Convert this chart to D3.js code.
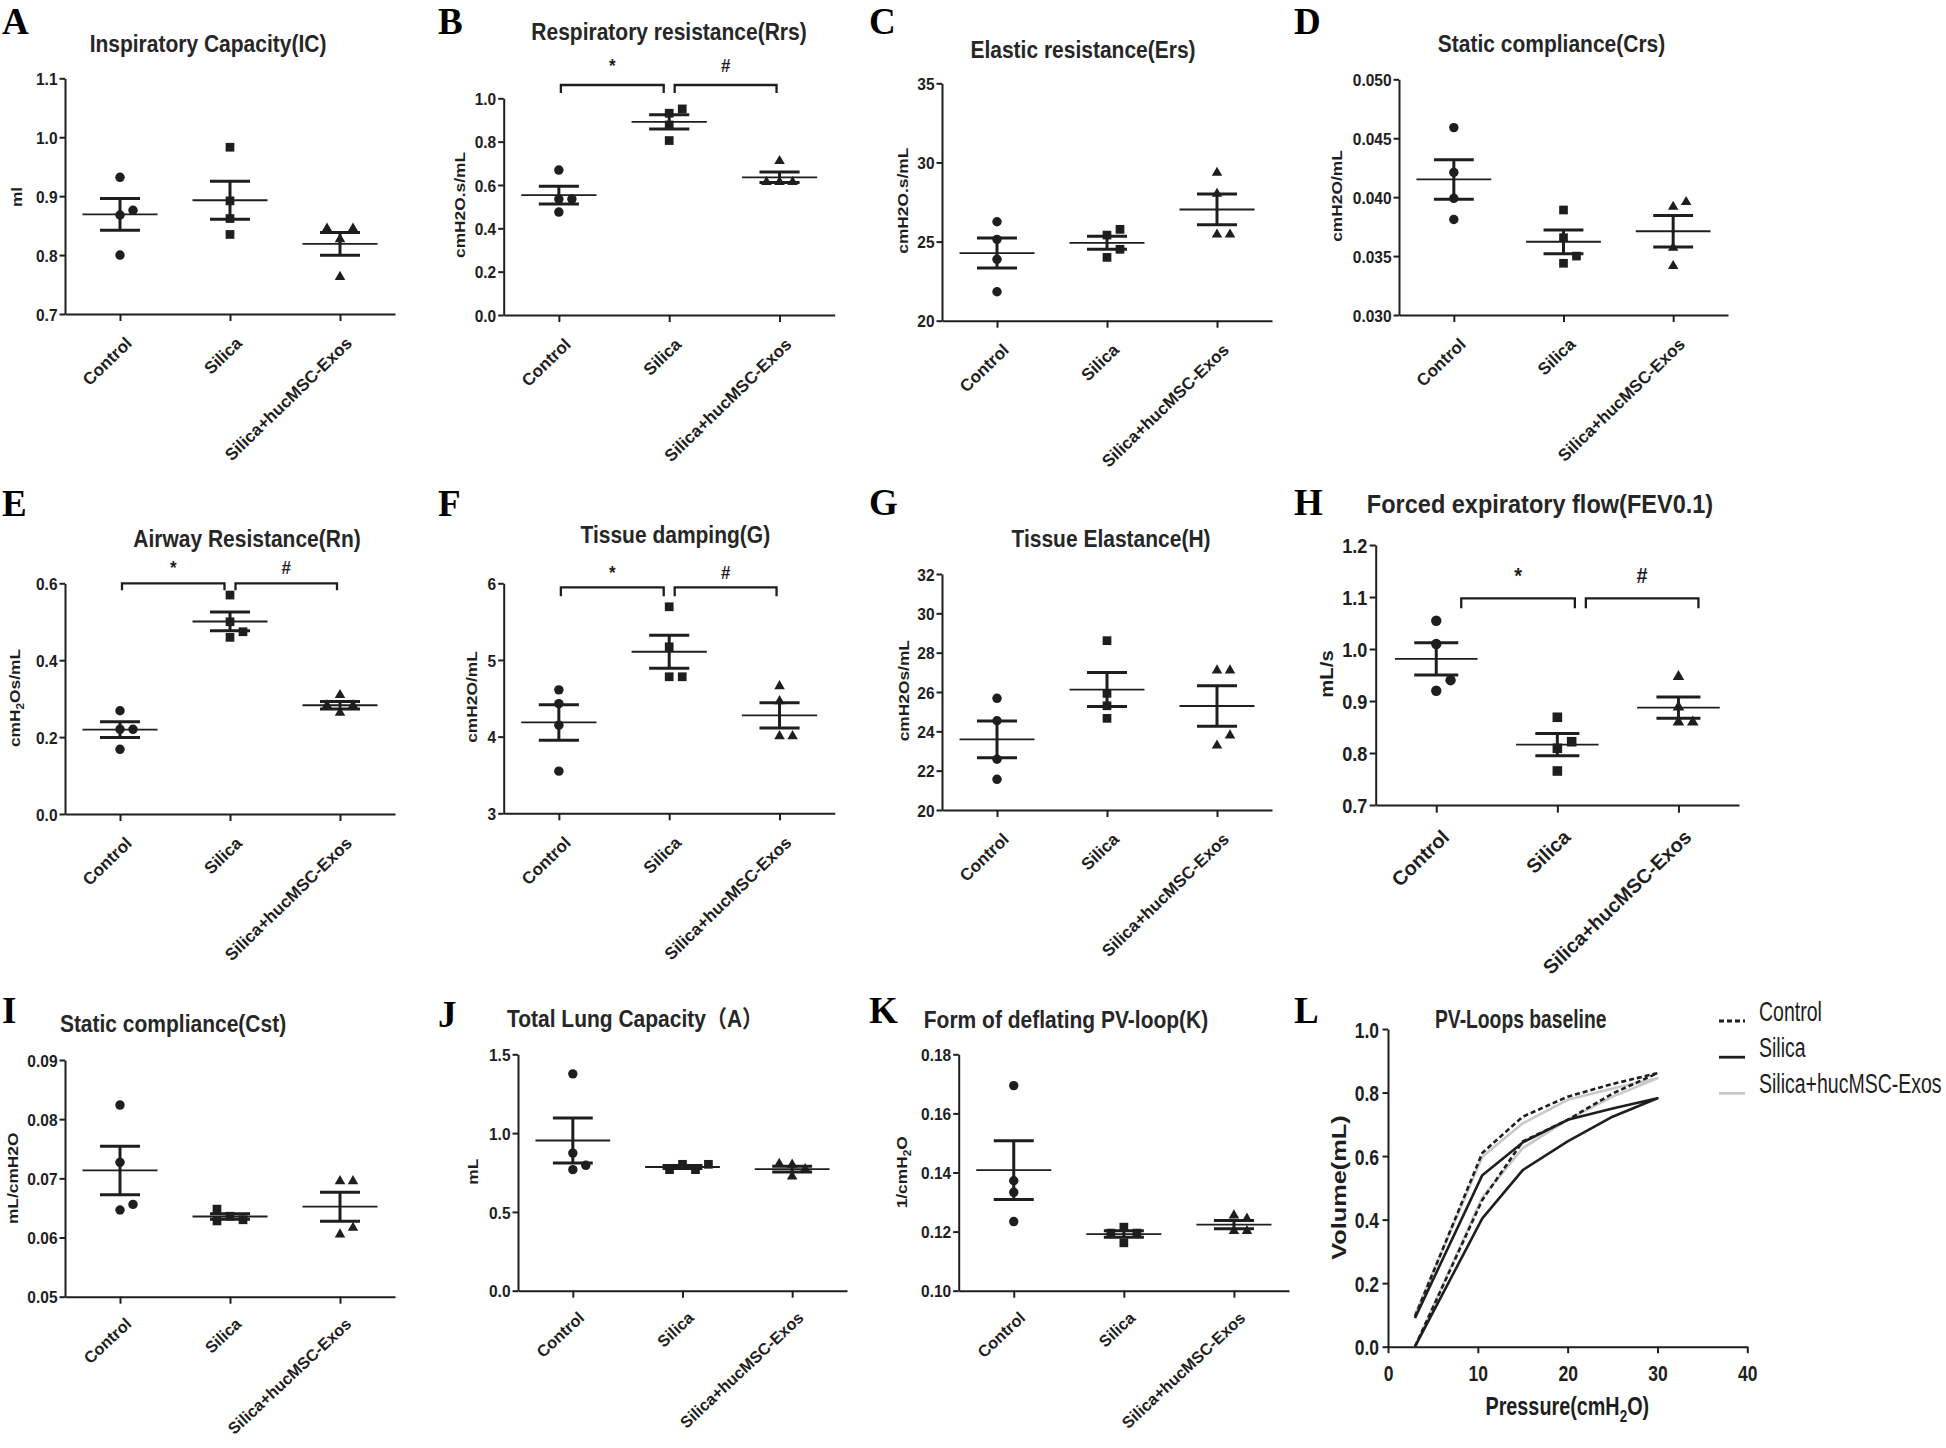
<!DOCTYPE html>
<html><head><meta charset="utf-8">
<script src="https://cdnjs.cloudflare.com/ajax/libs/d3/7.8.5/d3.min.js"></script>
<style>
body{margin:0;background:#fff}
svg{display:block;background:#fff}
</style>
</head><body>
<svg id="chart" width="1946" height="1448"></svg>
<script>
// ---------------- DATA ----------------
const groups = ["Control", "Silica", "Silica+hucMSC-Exos"];

// A Inspiratory Capacity (ml)
const icValues = [[0.932, 0.868, 0.876, 0.800], [0.983, 0.892, 0.862, 0.835], [0.826, 0.844, 0.844, 0.762]];
const icTicks = [0.7, 0.8, 0.9, 1.0, 1.1];
// B Respiratory resistance
const rrsValues = [[0.669, 0.535, 0.535, 0.475], [0.931, 0.951, 0.877, 0.805], [0.708, 0.611, 0.611, 0.611]];
const rrsTicks = [0, 0.2, 0.4, 0.6, 0.8, 1.0];
// C Elastic resistance
const ersValues = [[26.25, 25.14, 23.88, 21.83], [25.41, 24.0, 24.51, 25.77], [29.31, 27.98, 25.41, 25.41]];
const ersTicks = [20, 25, 30, 35];
// D Static compliance (Crs)
const crsValues = [[0.0459, 0.0421, 0.0399, 0.0381], [0.03891, 0.03656, 0.03439, 0.0350], [0.03914, 0.03953, 0.03566, 0.0341]];
const crsTicks = [0.030, 0.035, 0.040, 0.045, 0.050];
// E Airway resistance
const rnValues = [[0.2686, 0.2202, 0.2202, 0.1682], [0.5694, 0.500, 0.4594, 0.474], [0.308, 0.2808, 0.2808, 0.2618]];
const rnTicks = [0, 0.2, 0.4, 0.6];
// F Tissue damping
const gValues = [[4.61, 4.43, 4.15, 3.55], [5.694, 5.172, 4.781, 4.781], [4.651, 4.455, 3.999, 3.999]];
const gTicks = [3, 4, 5, 6];
// G Tissue elastance
const hValues = [[25.68, 24.54, 22.58, 21.56], [28.61, 25.93, 24.66, 25.30], [27.07, 27.07, 23.25, 23.76]];
const hTicks = [20, 22, 24, 26, 28, 30, 32];
// H FEV0.1
const fevValues = [[1.0544, 1.0096, 0.9198, 0.940], [0.8687, 0.809, 0.8217, 0.7654], [0.9456, 0.8871, 0.8583, 0.8583]];
const fevTicks = [0.7, 0.8, 0.9, 1.0, 1.1, 1.2];
// I Static compliance (Cst)
const cstValues = [[0.08238, 0.0727, 0.06465, 0.0656], [0.0636, 0.0630, 0.0628, 0.0648], [0.06943, 0.06943, 0.06042, 0.06155]];
const cstTicks = [0.05, 0.06, 0.07, 0.08, 0.09];
// J Total lung capacity
const tlcValues = [[1.376, 0.873, 0.768, 0.7956], [0.802, 0.768, 0.768, 0.802], [0.7215, 0.768, 0.796, 0.802]];
const tlcTicks = [0, 0.5, 1.0, 1.5];
// K Form of deflating PV-loop
const kValues = [[0.1694, 0.1333, 0.1372, 0.1234], [0.1215, 0.1162, 0.1195, 0.1195], [0.1253, 0.120, 0.1242, 0.120]];
const kTicks = [0.10, 0.12, 0.14, 0.16, 0.18];

// significance brackets: [from group, to group, symbol]
const sigMarks = [[0, 1, "*"], [1, 2, "#"]];

// L PV loops
const pvPressure = [3, 10.5, 15, 20, 25, 30];
const pvControlInflation = [0.0, 0.462, 0.646, 0.714, 0.797, 0.861];
const pvControlDeflation = [0.095, 0.61, 0.724, 0.787, 0.827, 0.861];
const pvSilicaInflation = [0.0, 0.404, 0.556, 0.646, 0.724, 0.782];
const pvSilicaDeflation = [0.09, 0.54, 0.643, 0.714, 0.75, 0.782];
const pvExosInflation = [0.0, 0.47, 0.625, 0.714, 0.787, 0.845];
const pvExosDeflation = [0.10, 0.598, 0.703, 0.777, 0.813, 0.845];
const pvXTicks = [0, 10, 20, 30, 40];
const pvYTicks = [0, 0.2, 0.4, 0.6, 0.8, 1.0];

// ---------------- PANELS ----------------
const catTop = {size: 17, ang: -44, dx: 12.5, dy: 30.5};
const catBottom = {size: 16.3, ang: -43, dx: 12, dy: 28.5};
const panels = [
  {letter: "A", title: "Inspiratory Capacity(IC)", ylab: "ml", values: icValues, ticks: icTicks, fmt: ".1f",
   L: {x0: 65, x1: 395, y0: 314, y1: 78.3, letter: [2, 33.5], title: [208, 51.7], ylab: [21.7, 197], cat: catTop}},
  {letter: "B", title: "Respiratory resistance(Rrs)", ylab: "cmH2O.s/mL", values: rrsValues, ticks: rrsTicks, fmt: ".1f", sig: true,
   L: {x0: 503.7, x1: 834.7, y0: 315, y1: 98.3, letter: [438, 33.5], title: [669, 40], ylab: [465, 205], cat: catTop, br: {y: 85, h: 8, symY: 72, shift: 0}}},
  {letter: "C", title: "Elastic resistance(Ers)", ylab: "cmH2O.s/mL", values: ersValues, ticks: ersTicks, fmt: "d",
   L: {x0: 942, x1: 1272, y0: 320.7, y1: 83.3, letter: [869, 33.5], title: [1083, 58.3], ylab: [908, 200.7], cat: catTop}},
  {letter: "D", title: "Static compliance(Crs)", ylab: "cmH2O/mL", values: crsValues, ticks: crsTicks, fmt: ".3f",
   L: {x0: 1399, x1: 1728, y0: 315, y1: 79.3, letter: [1294, 33.5], title: [1551.5, 51.7], ylab: [1342, 196], cat: catTop}},
  {letter: "E", title: "Airway Resistance(Rn)", ylab: "cmH{2}Os/mL", values: rnValues, ticks: rnTicks, fmt: ".1f", sig: true,
   L: {x0: 65, x1: 395, y0: 814, y1: 583.3, letter: [2, 516], title: [247, 546.7], ylab: [19.5, 698], cat: catTop, br: {y: 583.3, h: 7, symY: 574.3, shift: 0}}},
  {letter: "F", title: "Tissue damping(G)", ylab: "cmH2O/mL", values: gValues, ticks: gTicks, fmt: "d", sig: true,
   L: {x0: 503.7, x1: 834.7, y0: 813.3, y1: 583.3, letter: [438, 516], title: [675.3, 543.3], ylab: [477, 697], cat: catTop, br: {y: 587.3, h: 9, symY: 579.3, shift: 0}}},
  {letter: "G", title: "Tissue Elastance(H)", ylab: "cmH2Os/mL", values: hValues, ticks: hTicks, fmt: "d",
   L: {x0: 942, x1: 1272, y0: 810, y1: 574, letter: [869, 515], title: [1111, 546.7], ylab: [908.5, 690.7], cat: catTop}},
  {letter: "H", title: "Forced expiratory flow(FEV0.1)", ylab: "mL/s", values: fevValues, ticks: fevTicks, fmt: ".1f", sig: true, fs: 1.17,
   L: {x0: 1375.7, x1: 1739, y0: 805, y1: 545, letter: [1294, 515], title: [1540, 513], ylab: [1333, 674], cat: catTop, br: {y: 598.3, h: 10, symY: 583.3, shift: 23}}},
  {letter: "I", title: "Static compliance(Cst)", ylab: "mL/cmH2O", values: cstValues, ticks: cstTicks, fmt: ".2f",
   L: {x0: 65, x1: 395, y0: 1296.7, y1: 1060, letter: [2, 1023.3], title: [173, 1031.7], ylab: [18.3, 1178.3], cat: catBottom}},
  {letter: "J", title: "Total Lung Capacity\uFF08A\uFF09", ylab: "mL", values: tlcValues, ticks: tlcTicks, fmt: ".1f",
   L: {x0: 518, x1: 847, y0: 1290.7, y1: 1054.3, letter: [438, 1026.7], title: [635, 1026.7], ylab: [478, 1171.7], cat: catBottom}},
  {letter: "K", title: "Form of deflating PV-loop(K)", ylab: "1/cmH{2}O", values: kValues, ticks: kTicks, fmt: ".2f",
   L: {x0: 958.7, x1: 1289, y0: 1290.7, y1: 1054.3, letter: [869, 1023.3], title: [1066, 1028.3], ylab: [907, 1172.3], cat: catBottom}}
];

// ---------------- HELPERS ----------------
const svg = d3.select("#chart");
const INK = "#1e1e1e";
const FONT = "'Liberation Sans', Arial, Helvetica, 'Noto Sans CJK SC', sans-serif";
const SERIF = "'Liberation Serif', 'Times New Roman', serif";
const K = 1.12;

svg.append("rect").attr("width", 1946).attr("height", 1448).attr("fill", "#fff");

function addText(g, x, y, str, o = {}) {
  const size = o.size || 15.5;
  const k = o.k == null ? K : o.k;
  const t = g.append("text")
    .attr("transform", `translate(${x},${y}) scale(1,${k})${o.rot ? ` rotate(${o.rot})` : ""}`)
    .attr("font-size", size)
    .attr("font-weight", o.weight || "bold")
    .attr("text-anchor", o.anchor || "start")
    .attr("font-family", o.family || FONT)
    .attr("fill", o.fill || INK);
  if (o.dy) t.attr("dy", o.dy);
  const parts = str.split(/\{(\d)\}/);
  let shifted = false;
  parts.forEach((p, i) => {
    if (!p) return;
    if (i % 2 === 1) {
      t.append("tspan").attr("font-size", size * 0.68).attr("dy", size * 0.28).text(p);
      shifted = true;
    } else {
      t.append("tspan").attr("dy", shifted ? -size * 0.28 : 0).text(p);
      shifted = false;
    }
  });
  return t;
}

function jitter(vals, y, s, d) {
  const placed = [];
  const order = [0, 1, -1, 2, -2, 3, -3];
  return vals.map(v => {
    const py = y(v);
    for (const o of order) {
      const dx = o * s;
      if (!placed.some(p => Math.abs(p.dx - dx) < d && Math.abs(p.py - py) < d)) {
        placed.push({dx, py});
        return {v, dx, py};
      }
    }
    return {v, dx: 0, py};
  });
}

function styleAxis(a, fs) {
  a.attr("font-family", FONT).attr("font-weight", "bold").attr("font-size", fs);
  a.selectAll("path, line").attr("stroke", INK).attr("stroke-width", 2);
  a.selectAll("text").attr("fill", INK);
}

const symbolTypes = [d3.symbolCircle, d3.symbolSquare, d3.symbolTriangle];

// ---------------- DOT PANELS ----------------
function drawDotPanel(p) {
  const L = p.L;
  const fs = p.fs || 1;
  const g = svg.append("g");
  const x = d3.scalePoint().domain(groups).range([L.x0, L.x1]).padding(0.5);
  const y = d3.scaleLinear().domain([p.ticks[0], p.ticks[p.ticks.length - 1]]).range([L.y0, L.y1]);
  const step = x.step();
  const sc = step / 110;

  // y axis
  const ya = g.append("g").attr("transform", `translate(${L.x0},0)`)
    .call(d3.axisLeft(y).tickValues(p.ticks).tickSize(5.5 * sc).tickSizeOuter(0).tickFormat(d3.format(p.fmt)));
  styleAxis(ya, 15.5 * fs);
  ya.selectAll("text").attr("x", -7.5 * sc).attr("dy", "0.36em").attr("transform", `scale(1,${K})`);

  // x axis
  const c = L.cat;
  const xa = g.append("g").attr("transform", `translate(0,${L.y0})`)
    .call(d3.axisBottom(x).tickSize(7 * sc).tickSizeOuter(0));
  styleAxis(xa, c.size * fs);
  xa.selectAll("text").attr("y", 0).attr("dy", 0).attr("text-anchor", "end")
    .attr("transform", `translate(${c.dx * sc},${c.dy * sc}) rotate(${c.ang})`);

  // points
  groups.forEach((grp, gi) => {
    const vals = p.values[gi];
    const cx = x(grp);
    const pts = jitter(vals, y, 13 * sc, 11.2 * sc);
    const size = gi === 0 ? 70 : gi === 1 ? 76 : 48;
    g.append("g").selectAll("path").data(pts).join("path")
      .attr("d", d3.symbol().type(symbolTypes[gi]).size(size * sc * sc))
      .attr("transform", d => `translate(${cx + d.dx},${d.py + (gi === 2 ? -0.6 : 0)})`)
      .attr("fill", INK);

    // mean +/- SEM
    const m = d3.mean(vals);
    const sem = d3.deviation(vals) / Math.sqrt(vals.length);
    const eg = g.append("g").attr("stroke", INK).attr("fill", "none");
    const hw = 37.5 * sc, cw = 20 * sc;
    eg.append("line").attr("x1", cx - hw).attr("x2", cx + hw).attr("y1", y(m)).attr("y2", y(m)).attr("stroke-width", 1.8);
    eg.append("line").attr("x1", cx).attr("x2", cx).attr("y1", y(m + sem)).attr("y2", y(m - sem)).attr("stroke-width", 3);
    [m + sem, m - sem].forEach(v => {
      eg.append("line").attr("x1", cx - cw).attr("x2", cx + cw).attr("y1", y(v)).attr("y2", y(v)).attr("stroke-width", 3);
    });
  });

  // significance brackets
  if (p.sig) {
    const br = L.br;
    sigMarks.forEach(([a, b, sym]) => {
      const x1 = x(groups[a]) + (a === 1 ? 5.5 : 2) + br.shift;
      const x2 = x(groups[b]) - (b === 1 ? 5.5 : 3) + br.shift;
      g.append("path")
        .attr("d", `M${x1},${br.y + br.h} V${br.y} H${x2} V${br.y + br.h}`)
        .attr("fill", "none").attr("stroke", INK).attr("stroke-width", 2.3);
      addText(g, (x1 + x2) / 2, br.symY, sym, {size: 17 * fs, anchor: "middle"});
    });
  }

  // labels
  addText(g, L.letter[0], L.letter[1], p.letter, {size: 37, family: SERIF, k: 1, fill: "#000"});
  addText(g, L.title[0], L.title[1], p.title, {size: 21 * (fs > 1 ? 1.12 : 1), anchor: "middle", fill: "#262626"});
  addText(g, L.ylab[0], L.ylab[1], p.ylab, {size: 15.5 * fs, anchor: "middle", rot: -90});
}

panels.forEach(drawDotPanel);

// ---------------- PV LOOPS (L) ----------------
(function drawPV() {
  const L = {x0: 1388, x1: 1747.3, y0: 1346.7, y1: 1029};
  const kL = 1.27;
  const g = svg.append("g");
  const x = d3.scaleLinear().domain([0, 40]).range([L.x0, L.x1]);
  const y = d3.scaleLinear().domain([0, 1]).range([L.y0, L.y1]);

  const ya = g.append("g").attr("transform", `translate(${L.x0},0)`)
    .call(d3.axisLeft(y).tickValues(pvYTicks).tickSize(5.5).tickSizeOuter(0).tickFormat(d3.format(".1f")));
  styleAxis(ya, 17.5);
  ya.selectAll("text").attr("x", -9).attr("dy", "0.36em").attr("transform", `scale(1,${kL})`);

  const xa = g.append("g").attr("transform", `translate(0,${L.y0})`)
    .call(d3.axisBottom(x).tickValues(pvXTicks).tickSize(6.5).tickSizeOuter(0).tickFormat(d3.format("d")));
  styleAxis(xa, 17.5);
  xa.selectAll("text").attr("y", 0).attr("dy", 0).attr("text-anchor", "middle")
    .attr("transform", `translate(0,34) scale(1,${kL})`);

  const series = [
    {name: "Silica+hucMSC-Exos", infl: pvExosInflation, defl: pvExosDeflation, color: "#c9c9c9", dash: null},
    {name: "Silica", infl: pvSilicaInflation, defl: pvSilicaDeflation, color: INK, dash: null},
    {name: "Control", infl: pvControlInflation, defl: pvControlDeflation, color: INK, dash: "5,3"}
  ];
  const line = d3.line().x(d => x(d[0])).y(d => y(d[1]));
  series.forEach(s => {
    const pts = pvPressure.map((pp, i) => [pp, s.infl[i]])
      .concat(pvPressure.map((pp, i) => [pp, s.defl[i]]).reverse());
    g.append("path").attr("d", line(pts)).attr("fill", "none")
      .attr("stroke", s.color).attr("stroke-width", 2.6)
      .attr("stroke-linejoin", "round")
      .attr("stroke-dasharray", s.dash);
  });

  // legend
  const legendOrder = ["Control", "Silica", "Silica+hucMSC-Exos"];
  legendOrder.forEach((nm, i) => {
    const s = series.find(d => d.name === nm);
    const ry = 1021 + i * 36.2;
    g.append("line").attr("x1", 1719).attr("x2", 1745).attr("y1", ry).attr("y2", ry)
      .attr("stroke", s.color).attr("stroke-width", 2.8).attr("stroke-dasharray", s.dash);
    addText(g, 1759, ry, nm, {size: 19.5, weight: "normal", k: 1.4, dy: "0.36em"});
  });

  addText(g, 1294, 1023.3, "L", {size: 37, family: SERIF, k: 1, fill: "#000"});
  addText(g, 1520.7, 1028.3, "PV-Loops baseline", {size: 19.3, k: 1.33, anchor: "middle", fill: "#262626"});
  addText(g, 1567.3, 1415, "Pressure(cmH{2}O)", {size: 19.8, k: 1.29, anchor: "middle"});
  addText(g, 1345.5, 1187.5, "Volume(mL)", {size: 19.5, k: 1.3, anchor: "middle", rot: -90});
})();
</script>
</body></html>
